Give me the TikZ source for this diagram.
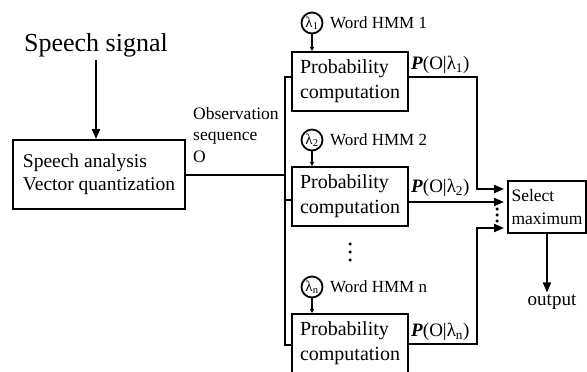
\documentclass[tikz,border=0pt]{standalone}
\usepackage{fontspec}
\setmainfont{Liberation Serif}
\usetikzlibrary{arrows.meta}
\tikzset{
  x=1pt,y=-1pt,
  ln/.style={line width=2pt},
  arr/.style={ln,-{Triangle[length=10pt,width=8pt]}},
  sarr/.style={line width=1.2pt,-{Triangle[length=4pt,width=4pt]}},
  boxn/.style={draw,line width=2pt,align=left,inner sep=0pt},
  prob/.style={boxn,minimum width=116pt,minimum height=59pt,font=\fontsize{20}{25}\selectfont},
  lam/.style={circle,draw,line width=1.8pt,inner sep=0pt,minimum size=21pt,font=\fontsize{15}{15}\selectfont},
  hmm/.style={anchor=west,inner sep=0pt,font=\fontsize{17}{17}\selectfont},
  plab/.style={anchor=west,inner sep=0pt,font=\fontsize{19}{19}\selectfont},
  dotc/.style={fill,circle,inner sep=0pt,minimum size=3.5pt}
}
\begin{document}
\begin{tikzpicture}
\useasboundingbox (0,0) rectangle (587,372);
% input
\node[inner sep=0pt,font=\fontsize{26}{26}\selectfont] (sig) at (96,45) {Speech signal};
\node[boxn,minimum width=172pt,minimum height=69pt,font=\fontsize{19.5}{23}\selectfont] (sa) at (99,174.5) {Speech analysis\\Vector quantization};
\draw[arr] ([yshift=-3pt]sig.south) -- (sig.south |- sa.north);
\node[anchor=north west,inner sep=0pt,align=left,font=\fontsize{17.5}{21.5}\selectfont] (obs) at (193,107) {Observation\\sequence\\O};
% probability boxes
\node[prob] (b1) at (350,81.5) {Probability\\computation};
\node[prob] (b2) at (350,196.5) {Probability\\computation};
\node[prob] (bn) at (350,343.5) {Probability\\computation};
% lambdas
\node[lam] (l1) at (312,23) {λ\textsubscript{1}};
\node[lam] (l2) at (312,140) {λ\textsubscript{2}};
\node[lam] (ln) at (312,287) {λ\textsubscript{n}};
\node[hmm] (w1) at (330,23) {Word HMM 1};
\node[hmm] (w2) at (330,140) {Word HMM 2};
\node[hmm] (wn) at (330,287) {Word HMM n};
\draw[sarr] (l1.south) -- (l1.south |- b1.north);
\draw[sarr] (l2.south) -- (l2.south |- b2.north);
\draw[sarr] (ln.south) -- (ln.south |- bn.north);
% vertical dots
\node[dotc] (d1) at (350,244) {};
\node[dotc] (d2) at (350,252) {};
\node[dotc] (d3) at (350,260) {};
% bus
\coordinate (bt) at (285,77);
\coordinate (bb) at (285,345);
\draw[ln] (sa.east) -- (sa.east -| bt);
\draw[ln] ([yshift=4.5pt]b1.west) -- (bt) -- (bb) -- (bb -| bn.west);
\draw[ln] ([yshift=-3.5pt]b2.west -| bt) -- ([yshift=-3.5pt]b2.west);
% select
\node[boxn,minimum width=78pt,minimum height=52pt,font=\fontsize{17.5}{23}\selectfont] (sel) at (547,207) {Select\\maximum};
\coordinate (jx) at (477,0);
\draw[arr,shorten >=3pt] ([yshift=4.5pt]b1.east) -| ([yshift=18pt]sel.west -| jx) -- ([yshift=18pt]sel.west);
\draw[arr,shorten >=3pt] ([yshift=-5.5pt]b2.east) -- ([yshift=5pt]sel.west);
\draw[arr,shorten >=3pt] (bn.east) -| ([yshift=-21pt]sel.west -| jx) -- ([yshift=-21pt]sel.west);
\node[dotc] (e1) at (497,209) {};
\node[dotc] (e2) at (497,215) {};
\node[dotc] (e3) at (497,221) {};
% probability labels
\node[plab] (p1) at (411,65) {\textbf{\textit{P}}(O|λ\textsubscript{1})};
\node[plab] (p2) at (411,188) {\textbf{\textit{P}}(O|λ\textsubscript{2})};
\node[plab] (pn) at (411,332) {\textbf{\textit{P}}(O|λ\textsubscript{n})};
% output
\node[inner sep=0pt,font=\fontsize{19}{19}\selectfont] (out) at (552,302) {output};
\draw[arr] (sel.south) -- ([yshift=2pt]sel.south |- out.north);
\end{tikzpicture}
\end{document}
